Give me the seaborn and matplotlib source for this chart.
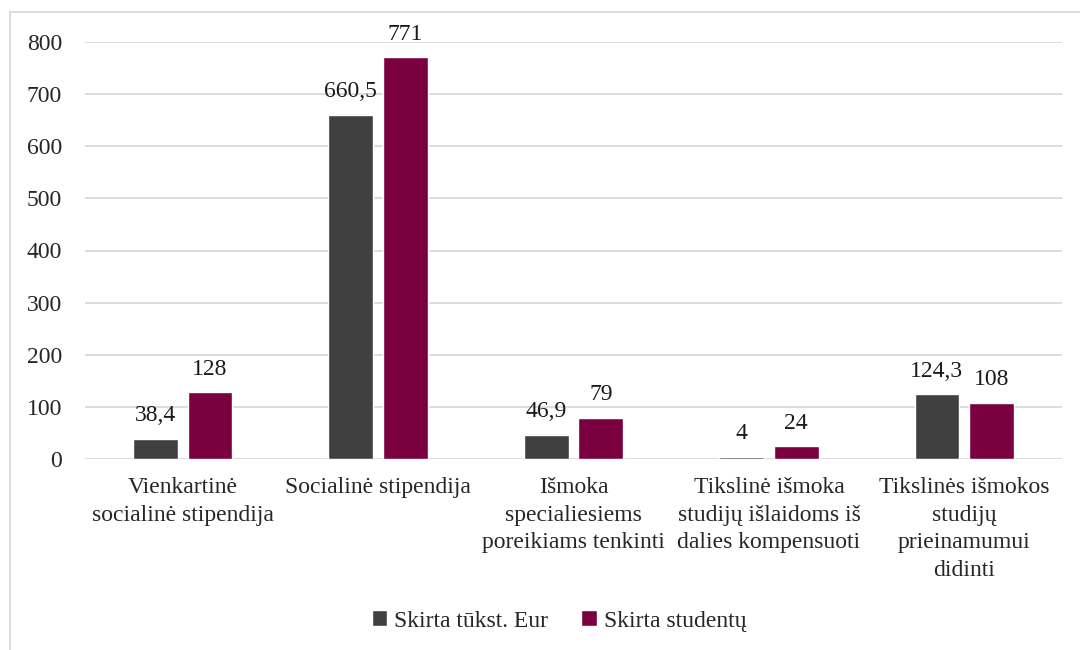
import matplotlib
matplotlib.use("Agg")
import matplotlib.pyplot as plt
import seaborn as sns
import pandas as pd
from matplotlib.patches import Rectangle, Patch

categories = ["Vienkartinė\nsocialinė stipendija", "Socialinė stipendija",
              "Išmoka\nspecialiesiems\nporeikiams tenkinti",
              "Tikslinė išmoka\nstudijų išlaidoms iš\ndalies kompensuoti",
              "Tikslinės išmokos\nstudijų\nprieinamumui\ndidinti"]
series_names = ["Skirta tūkst. Eur", "Skirta studentų"]
eur_values = [38.4, 660.5, 46.9, 4, 124.3]
student_values = [128, 771, 79, 24, 108]
eur_labels = ["38,4", "660,5", "46,9", "4", "124,3"]
student_labels = ["128", "771", "79", "24", "108"]
yticks = [0, 100, 200, 300, 400, 500, 600, 700, 800]
colors = ["#404040", "#7a0040"]

sns.set_theme(style="white")
plt.rcParams['font.family'] = ['Liberation Serif', 'DejaVu Serif']
FS = 17

df = pd.DataFrame({
    "cat": categories * 2,
    "val": eur_values + student_values,
    "series": [series_names[0]] * 5 + [series_names[1]] * 5,
})

fig = plt.figure(figsize=(10.8, 6.5), dpi=100)
ax = fig.add_axes([85/1080, 1 - 459/650, (1062 - 85)/1080, (459 - 42)/650])
sns.barplot(data=df, x="cat", y="val", hue="series", palette=colors,
            width=0.56, gap=0.18, ax=ax, legend=False, saturation=1)

ax.set_ylim(0, 800)
ax.set_xlim(-0.5, 4.5)
ax.set_yticks(yticks)
ax.set_yticklabels([str(t) for t in yticks], fontsize=FS)
ax.tick_params(axis='y', length=0, pad=16.5)
ax.tick_params(axis='x', length=0, pad=13, labelsize=FS)
for lbl in ax.get_xticklabels():
    lbl.set_linespacing(1.42)
ax.set_xlabel("")
ax.set_ylabel("")
ax.yaxis.grid(True, color="#d9d9d9", linewidth=1.3)
ax.set_axisbelow(True)
for s in ax.spines.values():
    s.set_visible(False)

for cont, labs in zip(ax.containers, [eur_labels, student_labels]):
    ax.bar_label(cont, labels=labs, padding=9, fontsize=FS, color="#1a1a1a")

handles = [Patch(facecolor=c, label=n) for c, n in zip(colors, series_names)]
fig.legend(handles=handles, loc="center", bbox_to_anchor=(559/1080, 1 - 621/650),
           ncol=2, frameon=False, fontsize=FS, handlelength=0.65, handleheight=0.65,
           handletextpad=0.3, columnspacing=1.4)

fig.patches.append(Rectangle((10/1080, -0.1), 1.2, 1 - 12/650 + 0.1,
                             transform=fig.transFigure, fill=False,
                             edgecolor="#d9d9d9", linewidth=1.3))

fig.savefig("out.png", dpi=100)
